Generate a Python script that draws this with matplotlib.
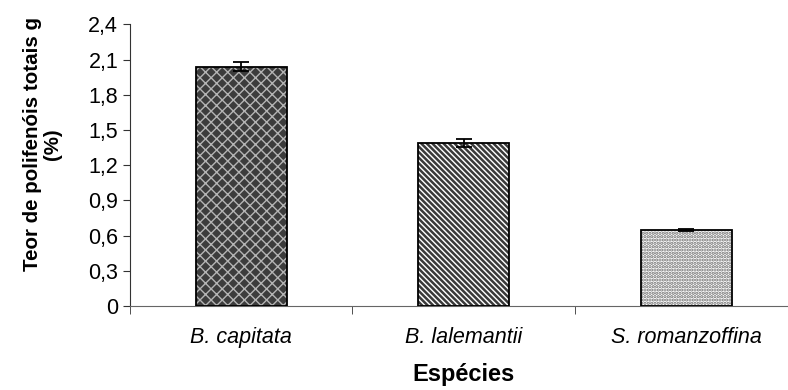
import matplotlib
matplotlib.use("Agg")
import matplotlib.pyplot as plt
import numpy as np

plt.rcParams['font.family'] = ['Liberation Sans', 'DejaVu Sans']

categories = ["B. capitata", "B. lalemantii", "S. romanzoffina"]
values = [2.04, 1.39, 0.65]
errors = [0.04, 0.035, 0.01]
yticks = [0, 0.3, 0.6, 0.9, 1.2, 1.5, 1.8, 2.1, 2.4]
ytick_labels = ["0", "0,3", "0,6", "0,9", "1,2", "1,5", "1,8", "2,1", "2,4"]

faces = ["#3c3c3c", "white", "white"]
hatch_colors = ["#b4b4b4", "#3a3a3a", "#6e6e6e"]
hatches = ["xxx", "\\" * 6, "....."]
hatch_lws = [1.0, 1.8, 1.6]

fig = plt.figure(figsize=(7.88, 3.9), dpi=100)
ax = fig.add_axes([0.165, 0.2154, 0.847, 0.7223])

x = np.arange(len(categories))
w = 0.41
for i in range(len(categories)):
    plt.rcParams['hatch.linewidth'] = hatch_lws[i]
    ax.bar(x[i], values[i], width=w, color=faces[i], hatch=hatches[i],
           edgecolor=hatch_colors[i], linewidth=0, zorder=2)
    ax.bar(x[i], values[i], width=w, fill=False, edgecolor='black',
           linewidth=1.3, zorder=3)
ax.errorbar(x, values, yerr=errors, fmt='none', ecolor='black',
            elinewidth=1.3, capsize=6, capthick=1.3, zorder=4)

ax.set_xlim(-0.5, 2.5)
ax.set_ylim(0, 2.4)
ax.set_yticks(yticks)
ax.set_yticklabels(ytick_labels, fontsize=15.5)
ax.set_xticks(x)
ax.set_xticklabels(categories, fontsize=15.5, style='italic')
ax.tick_params(axis='x', which='major', length=0, pad=15)
ax.set_xticks([-0.5, 0.5, 1.5, 2.5], minor=True)
ax.tick_params(axis='x', which='minor', length=6, direction='out', color='#333333')
ax.tick_params(axis='y', length=5, direction='out', color='#333333', pad=3.5)

for s in ['top', 'right']:
    ax.spines[s].set_visible(False)
ax.spines['left'].set_color('#333333')
ax.spines['bottom'].set_color('#666666')

ax.set_ylabel("Teor de polifenóis totais g\n(%)", fontsize=14.8,
              fontweight='bold', linespacing=1.05)
ax.yaxis.set_label_coords(-0.102, 0.574)
ax.set_xlabel("Espécies", fontsize=17, fontweight='bold', labelpad=11)

fig.savefig("out.png", dpi=100)
